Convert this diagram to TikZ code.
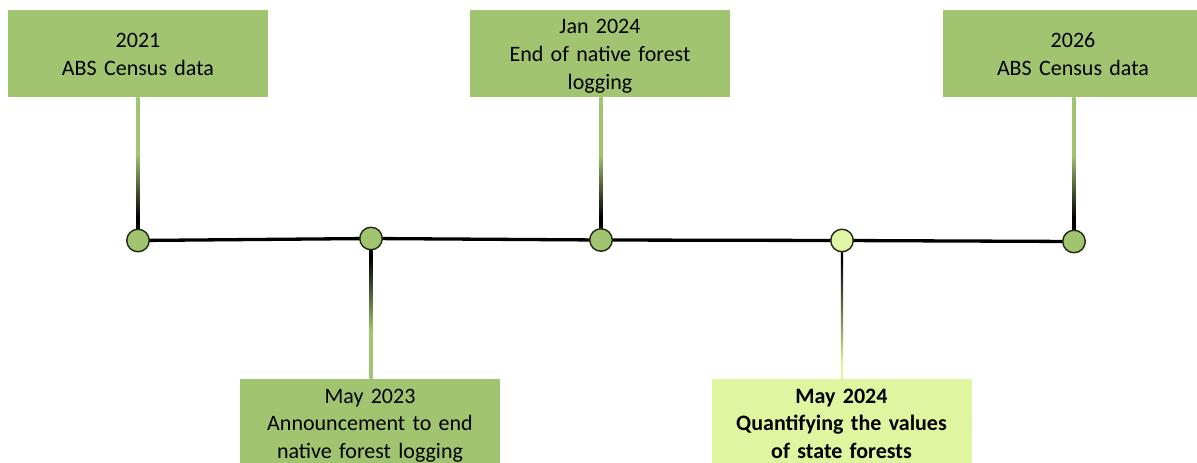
\documentclass[tikz,border=0pt]{standalone}
\usepackage{tikz}
\usepackage{fontspec}
\setmainfont{Carlito}
\definecolor{boxgreen}{RGB}{161,196,112}
\definecolor{lightbox}{RGB}{224,245,160}
\definecolor{lightdot}{RGB}{226,246,168}
\definecolor{ringcol}{RGB}{30,40,16}
\pgfdeclareverticalshading{upconn}{100bp}{color(0bp)=(black); color(25bp)=(black); color(33bp)=(black); color(55bp)=(boxgreen); color(100bp)=(boxgreen)}
\pgfdeclareverticalshading{downconn}{100bp}{color(0bp)=(boxgreen); color(42bp)=(boxgreen); color(68bp)=(black); color(100bp)=(black)}
\pgfdeclareverticalshading{downlight}{100bp}{color(0bp)=(lightbox); color(30bp)=(lightbox); color(68bp)=(black); color(100bp)=(black)}
\tikzset{
  evbox/.style={fill=boxgreen, draw=none, minimum width=260pt, minimum height=87pt,
    text width=250pt, align=center, inner sep=0pt, text height=15pt,
    font=\fontsize{22}{27.5}\selectfont},
  lightevbox/.style={evbox, fill=lightbox, font=\fontsize{22}{27.5}\selectfont\bfseries},
  twolines/.style={text depth=27pt},
  threelines/.style={text depth=54pt},
  dot/.style={circle, fill=boxgreen, draw=ringcol, line width=1.4pt, minimum size=22.5pt, inner sep=0pt},
  lightdotst/.style={dot, fill=lightdot},
  timeline/.style={line width=3.3pt, black}
}
\begin{document}
\begin{tikzpicture}[x=1pt,y=-1pt]
\useasboundingbox (0,0) rectangle (1197,463);
% boxes
\node[evbox, twolines] (b1) at (138,53.5) {2021\\ABS Census data};
\node[evbox, threelines] (b3) at (600,53.5) {Jan 2024\\End of native forest\\logging};
\node[evbox, twolines] (b5) at (1073,53.5) {2026\\ABS Census data};
\node[evbox, threelines] (b2) at (370,422.5) {May 2023\\Announcement to end\\native forest logging};
\node[lightevbox, threelines] (b4) at (841.5,422.5) {May 2024\\Quantifying the values\\of state forests};
% circle centres
\coordinate (p1) at (138,240.5);
\coordinate (p2) at (371,238.5);
\coordinate (p3) at (601,240);
\coordinate (p4) at (842,240.5);
\coordinate (p5) at (1074,241.5);
% connectors
\shade[shading=upconn] ([xshift=-1.6pt]b1.south) rectangle ([xshift=1.6pt]b1.south |- p1);
\shade[shading=upconn] ([xshift=-1.6pt]b3.south -| p3) rectangle ([xshift=1.6pt]p3);
\shade[shading=upconn] ([xshift=-1.6pt]b5.south -| p5) rectangle ([xshift=1.6pt]p5);
\shade[shading=downconn] ([xshift=-1.6pt]p2) rectangle ([xshift=1.6pt]b2.north -| p2);
\shade[shading=downlight] ([xshift=-1.1pt]p4) rectangle ([xshift=1.1pt]b4.north -| p4);
% timeline
\draw[timeline] (p1) -- (p2) -- (p3) -- (p4) -- (p5);
% dots
\node[dot] (c1) at (p1) {};
\node[dot] (c2) at (p2) {};
\node[dot] (c3) at (p3) {};
\node[lightdotst] (c4) at (p4) {};
\node[dot] (c5) at (p5) {};
\end{tikzpicture}
\end{document}
